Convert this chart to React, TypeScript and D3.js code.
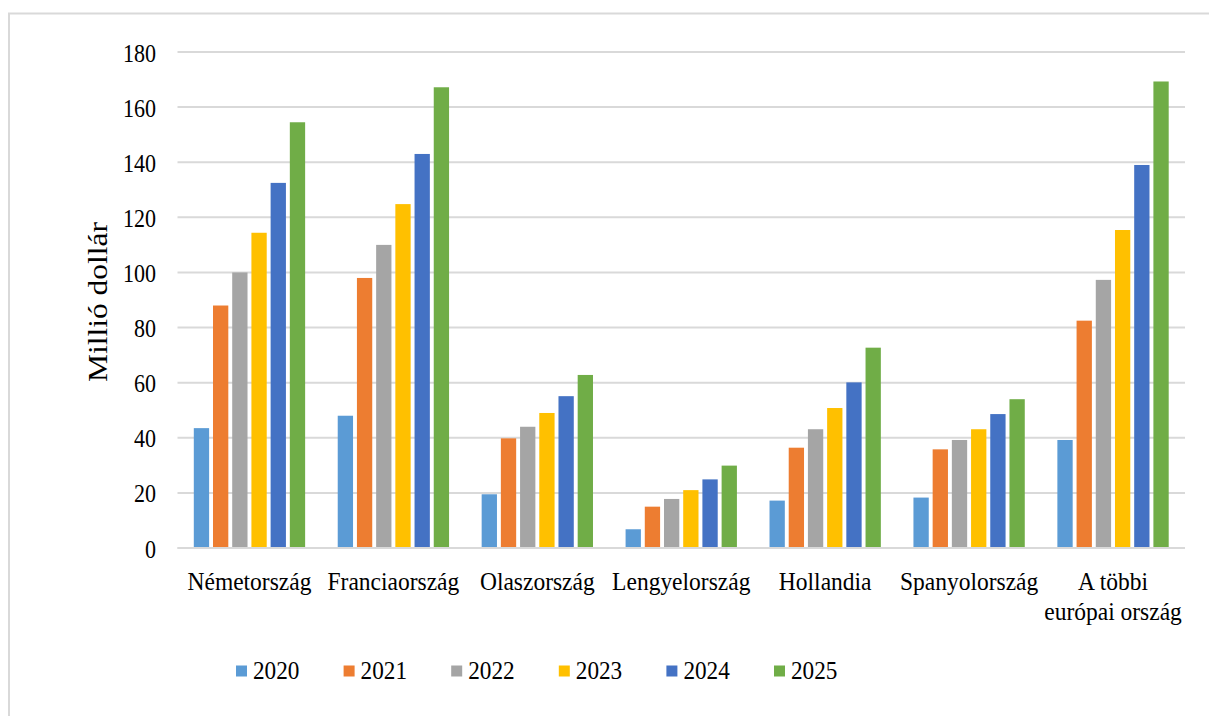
import React from "react";
import * as d3 from "d3";

const categories = [
  "Németország",
  "Franciaország",
  "Olaszország",
  "Lengyelország",
  "Hollandia",
  "Spanyolország",
  "A többi európai ország",
];
const categoryLines = [
  ["Németország"],
  ["Franciaország"],
  ["Olaszország"],
  ["Lengyelország"],
  ["Hollandia"],
  ["Spanyolország"],
  ["A többi", "európai ország"],
];
const years = ["2020", "2021", "2022", "2023", "2024", "2025"];
const colors = ["#5B9BD5", "#ED7D31", "#A5A5A5", "#FFC000", "#4472C4", "#70AD47"];

// values per year, in category order
const v2020 = [43.5, 48, 19.5, 6.8, 17.2, 18.3, 39.2];
const v2021 = [88, 98, 39.8, 15, 36.4, 35.8, 82.5];
const v2022 = [100, 110, 44, 17.8, 43.1, 39.2, 97.3];
const v2023 = [114.4, 124.8, 49, 21, 50.8, 43.1, 115.4];
const v2024 = [132.5, 143, 55.1, 24.9, 60.1, 48.6, 139];
const v2025 = [154.5, 167.2, 62.8, 29.9, 72.7, 54, 169.3];
const series = [v2020, v2021, v2022, v2023, v2024, v2025];

const yTicks = [0, 20, 40, 60, 80, 100, 120, 140, 160, 180];
const yTitle = "Millió dollár";

const W = 1209;
const H = 716;
const plotLeft = 177.5;
const plotRight = 1185;
const plotTop = 52;
const plotBottom = 548;
const FONT = "Liberation Serif";
const GRID = "#d9d9d9";
const ts = { fontFamily: FONT };

export default function App() {
  const x = d3
    .scaleBand<string>()
    .domain(categories)
    .range([plotLeft, plotRight])
    .paddingInner(0.2265)
    .paddingOuter(0.11325);
  const xi = d3
    .scaleBand<string>()
    .domain(years)
    .range([0, x.bandwidth()])
    .paddingInner(0.203)
    .paddingOuter(0);
  const y = d3.scaleLinear().domain([0, 180]).range([plotBottom, plotTop]);

  return (
    <svg
      width={W}
      height={H}
      style={{ position: "absolute", left: 0, top: 0, background: "#fff" }}
    >
      <rect x={0} y={0} width={W} height={H} fill="#fff" />
      {/* outer border */}
      <rect
        x={9}
        y={13.5}
        width={W + 20}
        height={H + 20}
        fill="none"
        stroke={GRID}
        strokeWidth={2}
      />
      {/* gridlines */}
      {yTicks.map((t) => (
        <line
          key={t}
          x1={plotLeft}
          x2={plotRight}
          y1={y(t)}
          y2={y(t)}
          stroke={GRID}
          strokeWidth={2}
        />
      ))}
      {/* y tick labels */}
      {yTicks.map((t) => (
        <text
          key={"l" + t}
          transform={`translate(156,${y(t) + 9.5}) scale(0.88,1)`}
          textAnchor="end"
          fontSize={25}
          fill="#000"
          style={ts}
        >
          {t}
        </text>
      ))}
      {/* y title */}
      <text
        transform={`translate(107,${(plotTop + plotBottom) / 2 + 2}) rotate(-90) scale(1,0.84)`}
        textAnchor="middle"
        fontSize={31.5}
        fill="#000"
        style={ts}
      >
        {yTitle}
      </text>
      {/* bars */}
      {series.map((vals, si) =>
        vals.map((v, ci) => (
          <rect
            key={si + "-" + ci}
            x={(x(categories[ci]) as number) + (xi(years[si]) as number)}
            y={y(v)}
            width={xi.bandwidth()}
            height={plotBottom - y(v)}
            fill={colors[si]}
          />
        ))
      )}
      {/* axis line */}
      <line
        x1={plotLeft}
        x2={plotRight}
        y1={plotBottom}
        y2={plotBottom}
        stroke={GRID}
        strokeWidth={2}
      />
      {/* x labels */}
      {categories.map((c, ci) => (
        <g
          key={"x" + c}
          transform={`translate(${(x(c) as number) + x.bandwidth() / 2},590) scale(0.94,1)`}
        >
          <text textAnchor="middle" fontSize={25} fill="#000" style={ts}>
            {categoryLines[ci].map((ln, li) => (
              <tspan key={li} x={0} dy={li === 0 ? 0 : 30}>
                {ln}
              </tspan>
            ))}
          </text>
        </g>
      ))}
      {/* legend */}
      {years.map((yr, i) => (
        <g key={"lg" + yr} transform={`translate(${236 + i * 107.6},0)`}>
          <rect x={0} y={665.5} width={11} height={11} fill={colors[i]} />
          <text
            transform="translate(17,679) scale(0.94,1)"
            fontSize={24.7}
            fill="#000"
            style={ts}
          >
            {yr}
          </text>
        </g>
      ))}
    </svg>
  );
}
